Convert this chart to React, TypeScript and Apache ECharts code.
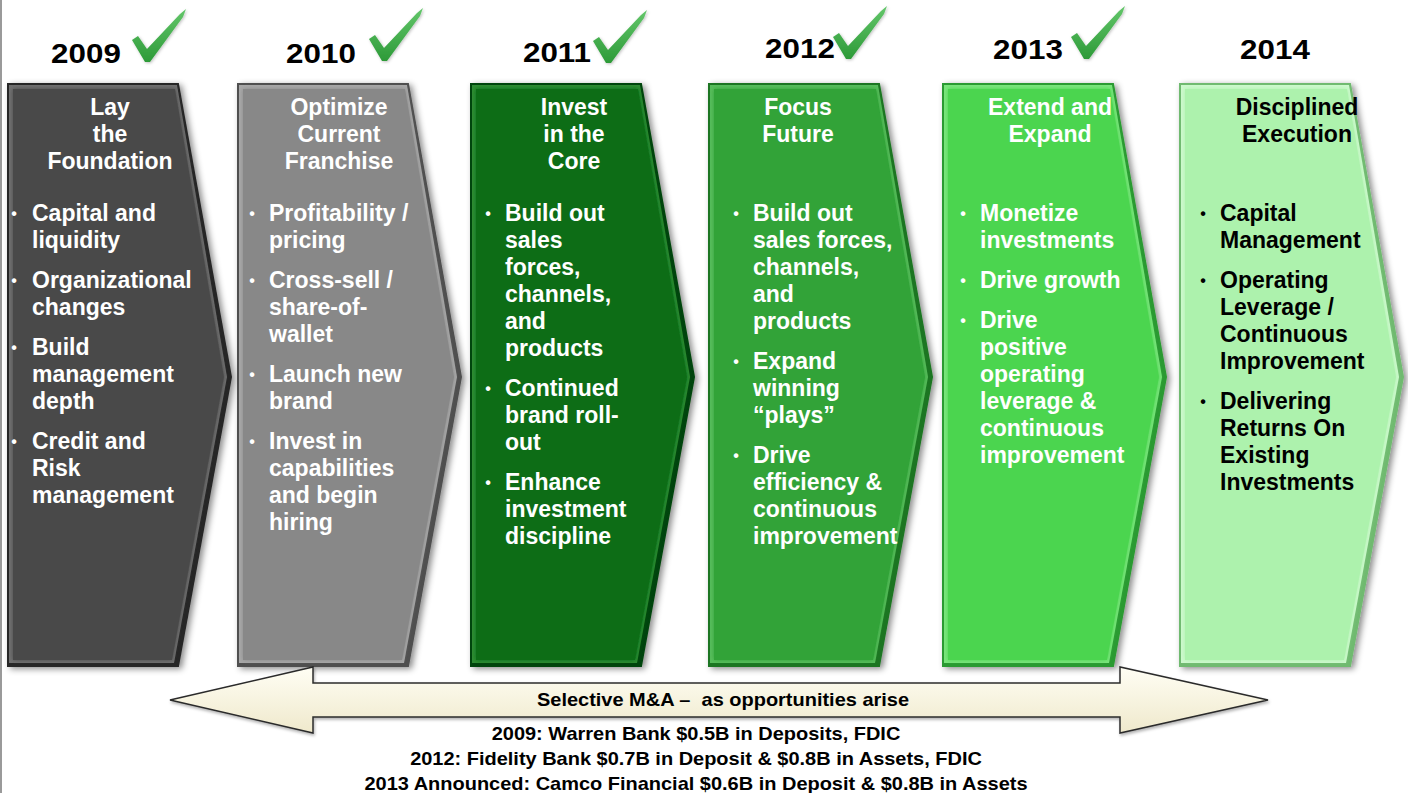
import React, { useEffect, useRef } from "react";
import * as echarts from "echarts";

// ---------- data ----------
const years = ["2009", "2010", "2011", "2012", "2013", "2014"];
const completed = [true, true, true, true, true, false];
const phaseTitles = [
  ["Lay", "the", "Foundation"],
  ["Optimize", "Current", "Franchise"],
  ["Invest", "in the", "Core"],
  ["Focus", "Future"],
  ["Extend and", "Expand"],
  ["Disciplined", "Execution"],
];
const phaseBullets = [
  [["Capital and", "liquidity"], ["Organizational", "changes"], ["Build", "management", "depth"], ["Credit and", "Risk", "management"]],
  [["Profitability /", "pricing"], ["Cross-sell /", "share-of-", "wallet"], ["Launch new", "brand"], ["Invest in", "capabilities", "and begin", "hiring"]],
  [["Build out", "sales", "forces,", "channels,", "and", "products"], ["Continued", "brand roll-", "out"], ["Enhance", "investment", "discipline"]],
  [["Build out", "sales forces,", "channels,", "and", "products"], ["Expand", "winning", "\u201Cplays\u201D"], ["Drive", "efficiency &", "continuous", "improvement"]],
  [["Monetize", "investments"], ["Drive growth"], ["Drive", "positive", "operating", "leverage &", "continuous", "improvement"]],
  [["Capital", "Management"], ["Operating", "Leverage /", "Continuous", "Improvement"], ["Delivering", "Returns On", "Existing", "Investments"]],
];
const arrowLabel = "Selective M&A \u2013  as opportunities arise";
const acquisitions = [
  "2009: Warren Bank $0.5B in Deposits, FDIC",
  "2012: Fidelity Bank $0.7B in Deposit & $0.8B in Assets, FDIC",
  "2013 Announced: Camco Financial $0.6B in Deposit & $0.8B in Assets",
];

// ---------- styles / layout ----------
const fills = ["#4a4a4a", "#888888", "#0a6d16", "#30a338", "#4cd550", "#adf2ad"];
const lights = ["#707070", "#a8a8a8", "#2f8c35", "#58bd5c", "#7ae57c", "#cdf9cd"];
const darks = ["#262626", "#505050", "#04440b", "#1b7521", "#2c9a31", "#6fba6f"];
const textColors = ["#fff", "#fff", "#fff", "#fff", "#fff", "#000"];

const chevLeft = [8, 238, 471, 709, 943, 1180];
const TOP = 84, BOTTOM = 666, TOPW = 170, TIPDX = 223, TIPY = 377;
const titleCx = [110, 339, 574, 798, 1050, 1297];
const dotDx = [6, 14, 17, 27, 20, 23];
const textDx = [24, 31, 34, 44, 37, 40];
const yearCx = [86, 321, 557, 800, 1028, 1275];
const yearCy = [53, 53, 52, 48, 49, 49];
const checkPos = [[146, 61], [383, 60], [607, 62], [847, 58], [1085, 58]];
const FONT = "'Liberation Sans', Arial, sans-serif";

function stretchedText(text: string, x: number, y: number, size: number, sx: number, z: number) {
  return {
    type: "text", z, x, y, scaleX: sx,
    style: {
      text, x: 0, y: 0, align: "center", verticalAlign: "middle",
      font: `bold ${size}px ${FONT}`, fill: "#000",
    },
  };
}

function buildElements(): any[] {
  const els: any[] = [];
  els.push({ type: "rect", shape: { x: 0, y: 0, width: 1408, height: 793 }, style: { fill: "#fff" }, z: 0 });
  els.push({ type: "rect", shape: { x: 0, y: 0, width: 2, height: 793 }, style: { fill: "#9a9a9a" }, z: 1 });

  years.forEach((yr, i) => {
    const L = chevLeft[i];
    const pts = [[L, TOP], [L + TOPW, TOP], [L + TIPDX, TIPY], [L + TOPW, BOTTOM], [L, BOTTOM]];
    els.push({
      type: "polygon", z: 2,
      shape: { points: pts },
      style: {
        fill: darks[i], stroke: darks[i], lineWidth: 2,
        shadowBlur: 6, shadowColor: "rgba(0,0,0,0.45)", shadowOffsetX: 3, shadowOffsetY: 2,
      },
    });
    const ins = 5;
    els.push({
      type: "polygon", z: 3,
      shape: { points: [[L + 1, TOP + 1], [L + TOPW - 1, TOP + 1], [L + TIPDX - 4, TIPY], [L + TOPW - 4, BOTTOM - 3], [L + 1, BOTTOM - 3]] },
      style: { fill: lights[i] },
    });
    els.push({
      type: "polygon", z: 4,
      shape: { points: [[L + ins, TOP + ins], [L + TOPW - 3, TOP + ins], [L + TIPDX - 7, TIPY], [L + TOPW - 6, BOTTOM - 6], [L + ins, BOTTOM - 6]] },
      style: { fill: fills[i], shadowBlur: 4, shadowColor: fills[i] },
    });

    els.push(stretchedText(yr, yearCx[i], yearCy[i], 28, 1.12, 10));

    phaseTitles[i].forEach((t, k) => {
      els.push({
        type: "text", z: 10,
        style: {
          text: t, x: titleCx[i], y: 107 + k * 27, align: "center", verticalAlign: "middle",
          font: `bold 23px ${FONT}`, fill: textColors[i],
        },
      });
    });

    let y = 213;
    phaseBullets[i].forEach((item) => {
      els.push({
        type: "text", z: 10,
        style: {
          text: "\u2022", x: L + dotDx[i], y, align: "center", verticalAlign: "middle",
          font: `bold 16px ${FONT}`, fill: textColors[i],
        },
      });
      item.forEach((line) => {
        els.push({
          type: "text", z: 10,
          style: {
            text: line, x: L + textDx[i], y, align: "left", verticalAlign: "middle",
            font: `bold 23px ${FONT}`, fill: textColors[i],
          },
        });
        y += 27;
      });
      y += 13;
    });
  });

  completed.forEach((c, i) => {
    if (!c) return;
    const [bx, by] = checkPos[i];
    const rel = [[-14, -21], [-8, -25], [1, -12], [34, -47], [40, -52], [37, -44], [4, 1], [-1, 1]];
    els.push({
      type: "polygon", z: 11,
      shape: { points: rel.map(([dx, dy]) => [bx + dx, by + dy]) },
      style: {
        fill: new echarts.graphic.LinearGradient(0, 0, 0, 1, [
          { offset: 0, color: "#63c66a" },
          { offset: 1, color: "#2d9a38" },
        ]),
        shadowBlur: 3, shadowColor: "rgba(0,0,0,0.25)", shadowOffsetX: 1, shadowOffsetY: 1,
      },
    });
  });

  const ap = [
    [170, 700], [313, 667], [313, 683], [1120, 683], [1120, 667], [1268, 700],
    [1120, 733], [1120, 717], [313, 717], [313, 733],
  ];
  els.push({
    type: "polygon", z: 12,
    shape: { points: ap },
    style: {
      fill: new echarts.graphic.LinearGradient(0, 0, 0, 1, [
        { offset: 0, color: "#fffef4" },
        { offset: 1, color: "#efe9cc" },
      ]),
      stroke: "#2b2b2b", lineWidth: 1.5,
      shadowBlur: 3, shadowColor: "rgba(0,0,0,0.3)", shadowOffsetX: 1, shadowOffsetY: 2,
    },
  });
  els.push(stretchedText(arrowLabel, 723, 700, 18, 1.11, 13));
  acquisitions.forEach((t, k) => {
    els.push(stretchedText(t, 696, 734 + k * 25, 18, 1.11, 13));
  });
  return els;
}

export default function App() {
  const ref = useRef<HTMLDivElement>(null);
  useEffect(() => {
    if (!ref.current) return;
    const chart = echarts.init(ref.current, null, { renderer: "svg" });
    chart.setOption({
      animation: false,
      backgroundColor: "#ffffff",
      graphic: { elements: buildElements() },
    });
    return () => chart.dispose();
  }, []);
  return (
    <div
      ref={ref}
      style={{ position: "absolute", left: 0, top: 0, width: 1408, height: 793, background: "#fff" }}
    />
  );
}
